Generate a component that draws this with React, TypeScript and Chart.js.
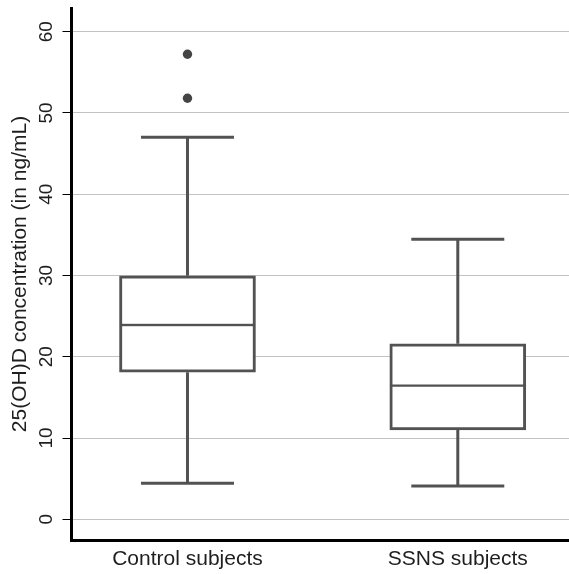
import { useEffect, useRef } from 'react';
import { Chart, registerables } from 'chart.js';

Chart.register(...registerables);

// ---- data ----
const categories = ['Control subjects', 'SSNS subjects'];
const positions = [1, 2];
const whiskerLow = [4.43, 4.1];
const q1 = [18.1, 11.0];
const median = [23.9, 16.44];
const q3 = [29.95, 21.6];
const whiskerHigh = [47.0, 34.45];
const outliers: number[][] = [[57.22, 51.8], []];
const yTickValues = [0, 10, 20, 30, 40, 50, 60];
const yTitle = '25(OH)D concentration (in ng/mL)';

// ---- style ----
const BOX_COLOR = '#525252';
const TEXT_COLOR = '#1e1e1e';
const FONT = "'Liberation Sans', Arial, Helvetica, sans-serif";
const CAP_HALF = 0.172;

export default function App() {
  const ref = useRef<HTMLCanvasElement>(null);

  useEffect(() => {
    const canvas = ref.current;
    if (!canvas) return;

    const lowerBox = positions.map((x, i) => ({ x, y: [q1[i], median[i]] }));
    const upperBox = positions.map((x, i) => ({ x, y: [median[i], q3[i]] }));

    const boxBase = {
      type: 'bar' as const,
      stack: 'box',
      backgroundColor: '#ffffff',
      borderColor: BOX_COLOR,
      borderSkipped: false,
      barThickness: 136,
      order: 2,
    };

    const lineBase = {
      type: 'line' as const,
      borderColor: BOX_COLOR,
      borderWidth: 3,
      pointRadius: 0,
      borderCapStyle: 'butt',
      fill: false,
      order: 1,
    };

    const whiskerSets = positions.flatMap((x, i) => [
      { ...lineBase, data: [{ x, y: whiskerLow[i] }, { x, y: q1[i] }] },
      { ...lineBase, data: [{ x, y: q3[i] }, { x, y: whiskerHigh[i] }] },
      {
        ...lineBase,
        data: [
          { x: x - CAP_HALF, y: whiskerLow[i] },
          { x: x + CAP_HALF, y: whiskerLow[i] },
        ],
      },
      {
        ...lineBase,
        data: [
          { x: x - CAP_HALF, y: whiskerHigh[i] },
          { x: x + CAP_HALF, y: whiskerHigh[i] },
        ],
      },
    ]);

    const outlierPoints = positions.flatMap((x, i) => outliers[i].map((y) => ({ x, y })));

    const chart = new Chart(canvas, {
      type: 'bar',
      data: {
        datasets: [
          {
            ...boxBase,
            data: lowerBox,
            borderWidth: { top: 1.5, bottom: 3, left: 3, right: 3 },
          },
          {
            ...boxBase,
            data: upperBox,
            borderWidth: { top: 3, bottom: 1.5, left: 3, right: 3 },
          },
          ...whiskerSets,
          {
            type: 'scatter',
            data: outlierPoints,
            pointRadius: 4.7,
            pointBackgroundColor: '#444444',
            pointBorderWidth: 0,
            showLine: false,
            order: 0,
          },
        ] as any,
      },
      options: {
        responsive: false,
        animation: false,
        events: [],
        layout: { autoPadding: false, padding: { top: 8, right: 0, bottom: 0, left: 0 } },
        plugins: {
          legend: { display: false },
          tooltip: { enabled: false },
          title: { display: false },
        },
        scales: {
          x: {
            type: 'linear',
            min: 0.5709,
            max: 2.4114,
            offset: false,
            grid: { display: false, drawTicks: false },
            border: { display: true, color: '#000000', width: 3 },
            afterBuildTicks: (scale: any) => {
              scale.ticks = positions.map((v) => ({ value: v }));
            },
            afterFit: (scale: any) => {
              scale.height = 34;
              scale.paddingLeft = 0;
              scale.paddingRight = 0;
              scale.paddingTop = 0;
              scale.paddingBottom = 0;
            },
            ticks: {
              autoSkip: false,
              maxRotation: 0,
              minRotation: 0,
              padding: 7,
              color: TEXT_COLOR,
              font: { family: FONT, size: 21 },
              callback: (value: any) => {
                const idx = positions.indexOf(Number(value));
                return idx >= 0 ? categories[idx] : '';
              },
            },
          },
          y: {
            type: 'linear',
            min: -2.55,
            max: 62.91,
            stacked: false,
            afterBuildTicks: (scale: any) => {
              scale.ticks = yTickValues.map((v) => ({ value: v }));
            },
            afterFit: (scale: any) => {
              scale.width = 71.5;
              scale.paddingLeft = 0;
              scale.paddingRight = 0;
              scale.paddingTop = 0;
              scale.paddingBottom = 0;
            },
            grid: {
              color: '#c2c2c2',
              lineWidth: 1,
              drawTicks: true,
              tickLength: 9,
              tickColor: '#000000',
              tickWidth: 1,
            },
            border: { display: true, color: '#000000', width: 3 },
            ticks: {
              autoSkip: false,
              minRotation: 90,
              maxRotation: 90,
              crossAlign: 'center',
              padding: 5,
              color: TEXT_COLOR,
              font: { family: FONT, size: 19 },
            },
            title: {
              display: true,
              text: yTitle,
              color: TEXT_COLOR,
              font: { family: FONT, size: 21 },
              padding: { top: 8, bottom: 0 },
            },
          },
        },
      } as any,
    });

    return () => chart.destroy();
  }, []);

  return (
    <canvas
      ref={ref}
      width={569}
      height={574}
      style={{ position: 'fixed', left: 0, top: 0, display: 'block' }}
    />
  );
}
